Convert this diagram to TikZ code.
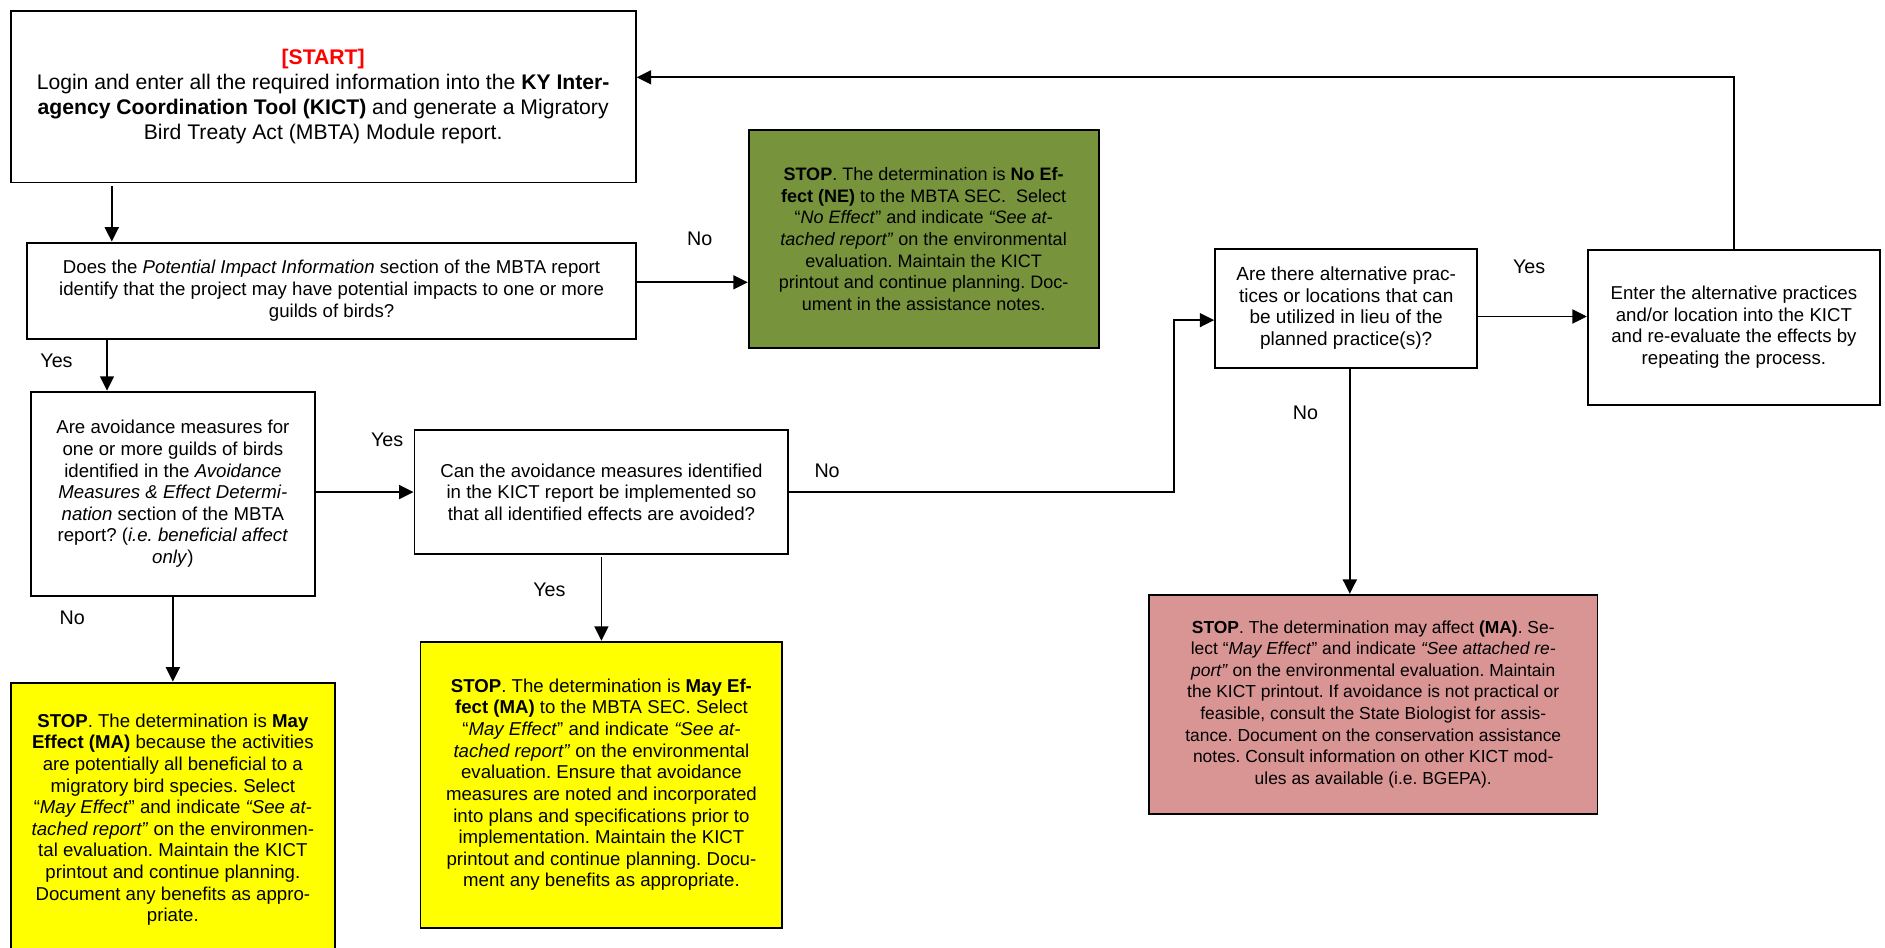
\documentclass[tikz,border=0pt]{standalone}
\usepackage{fontspec}
\setmainfont{Liberation Sans}
\usetikzlibrary{arrows.meta,calc}
\definecolor{stopgreen}{HTML}{77933C}
\definecolor{stopyellow}{HTML}{FFFF00}
\definecolor{stoppink}{HTML}{D99594}
\frenchspacing
\begin{document}
\begin{tikzpicture}[x=0.5pt,y=-0.5pt,
  box/.style={draw, line width=0.8pt, inner sep=0pt, align=center, anchor=north west,
    font=\fontsize{7.75}{9}\selectfont},
  arr/.style={line width=0.75pt, -{Triangle[length=6pt,width=5.8pt]}},
  lbl/.style={font=\fontsize{8.2}{9.6}\selectfont, inner sep=0pt}]
\clip (0,0) rectangle (1568,788);
\fill[white] (0,0) rectangle (1568,788);

\node[box, minimum width=260pt, minimum height=71.5pt,
  font=\fontsize{8.8}{10.3}\selectfont] (start) at (8,8)
  {{\color{red}\bfseries [START]}\\
   Login and enter all the required information into the \textbf{KY Inter-}\\
   \textbf{agency Coordination Tool (KICT)} and generate a Migratory\\
   Bird Treaty Act (MBTA) Module report.};

\node[box, minimum width=253pt, minimum height=40pt] (pot) at (22,201)
  {Does the \textit{Potential Impact Information} section of the MBTA report\\
   identify that the project may have potential impacts to one or more\\
   guilds of birds?};

\node[box, fill=stopgreen, minimum width=145.5pt, minimum height=91pt,
  font=\fontsize{7.5}{9}\selectfont] (green) at (622,107)
  {\textbf{STOP}. The determination is \textbf{No Ef-}\\
   \textbf{fect (NE)} to the MBTA SEC.\ \ Select\\
   “\textit{No Effect}” and indicate \textit{“See at-}\\
   \textit{tached report”} on the environmental\\
   evaluation. Maintain the KICT\\
   printout and continue planning. Doc-\\
   ument in the assistance notes.};

\node[box, minimum width=118pt, minimum height=85pt] (avoid) at (25,325)
  {Are avoidance measures for\\
   one or more guilds of birds\\
   identified in the \textit{Avoidance}\\
   \textit{Measures \& Effect Determi-}\\
   \textit{nation} section of the MBTA\\
   report? (\textit{i.e. beneficial affect}\\
   \textit{only})};

\node[box, minimum width=155.5pt, minimum height=51.5pt] (can) at (344,357)
  {Can the avoidance measures identified\\
   in the KICT report be implemented so\\
   that all identified effects are avoided?};

\node[box, minimum width=109pt, minimum height=49.5pt,
  font=\fontsize{7.9}{9}\selectfont] (alt) at (1010,206)
  {Are there alternative prac-\\
   tices or locations that can\\
   be utilized in lieu of the\\
   planned practice(s)?};

\node[box, minimum width=121.5pt, minimum height=64.5pt] (enter) at (1320,207)
  {Enter the alternative practices\\
   and/or location into the KICT\\
   and re-evaluate the effects by\\
   repeating the process.};

\node[box, fill=stopyellow, minimum width=135pt, minimum height=114pt] (yl) at (8,567)
  {\textbf{STOP}. The determination is \textbf{May}\\
   \textbf{Effect (MA)} because the activities\\
   are potentially all beneficial to a\\
   migratory bird species. Select\\
   “\textit{May Effect}” and indicate \textit{“See at-}\\
   \textit{tached report”} on the environmen-\\
   tal evaluation. Maintain the KICT\\
   printout and continue planning.\\
   Document any benefits as appro-\\
   priate.};

\node[box, fill=stopyellow, minimum width=150.5pt, minimum height=119pt] (ym) at (349,533)
  {\textbf{STOP}. The determination is \textbf{May Ef-}\\
   \textbf{fect (MA)} to the MBTA SEC. Select\\
   “\textit{May Effect}” and indicate \textit{“See at-}\\
   \textit{tached report”} on the environmental\\
   evaluation. Ensure that avoidance\\
   measures are noted and incorporated\\
   into plans and specifications prior to\\
   implementation. Maintain the KICT\\
   printout and continue planning. Docu-\\
   ment any benefits as appropriate.};

\node[box, fill=stoppink, minimum width=186.5pt, minimum height=91pt,
  font=\fontsize{7.25}{9}\selectfont] (pink) at (955,494)
  {\textbf{STOP}. The determination may affect \textbf{(MA)}. Se-\\
   lect “\textit{May Effect}” and indicate \textit{“See attached re-}\\
   \textit{port”} on the environmental evaluation. Maintain\\
   the KICT printout. If avoidance is not practical or\\
   feasible, consult the State Biologist for assis-\\
   tance. Document on the conservation assistance\\
   notes. Consult information on other KICT mod-\\
   ules as available (i.e. BGEPA).};

% connectors
\draw[arr] ([xshift=42.5pt,yshift=-1pt]start.south west) -- ([xshift=42.5pt]start.south west |- pot.north);
\draw[arr] ([xshift=33.5pt]pot.south west) -- ([xshift=33.5pt]pot.south west |- avoid.north);
\draw[arr] ([yshift=3.5pt]pot.east) -- ([yshift=3.5pt]pot.east -| green.west);
\draw[arr] (avoid.east |- can.west) -- (can.west);
\draw[arr] (avoid.south) -- (avoid.south |- yl.north);
\draw[arr] ([yshift=-1pt]can.south) -- (can.south |- ym.north);
\draw[arr] (can.east) -- ++(320,0) |- ([yshift=-5pt]alt.west);
\draw[arr] ([xshift=1.5pt]alt.south) -- ([xshift=1.5pt]alt.south |- pink.north);
\draw[arr] ([yshift=-3.5pt]alt.east) -- ([yshift=-3.5pt]alt.east -| enter.west);
\draw[arr] (enter.north) |- ([yshift=8pt]start.east);

% labels
\node[lbl] (l1) at (47,300) {Yes};
\node[lbl] (l2) at (582,199) {No};
\node[lbl] (l3) at (322,366) {Yes};
\node[lbl] (l4) at (60,514) {No};
\node[lbl] (l5) at (457,491) {Yes};
\node[lbl] (l6) at (688,392) {No};
\node[lbl] (l7) at (1086,343) {No};
\node[lbl] (l8) at (1272,222) {Yes};
\end{tikzpicture}
\end{document}
